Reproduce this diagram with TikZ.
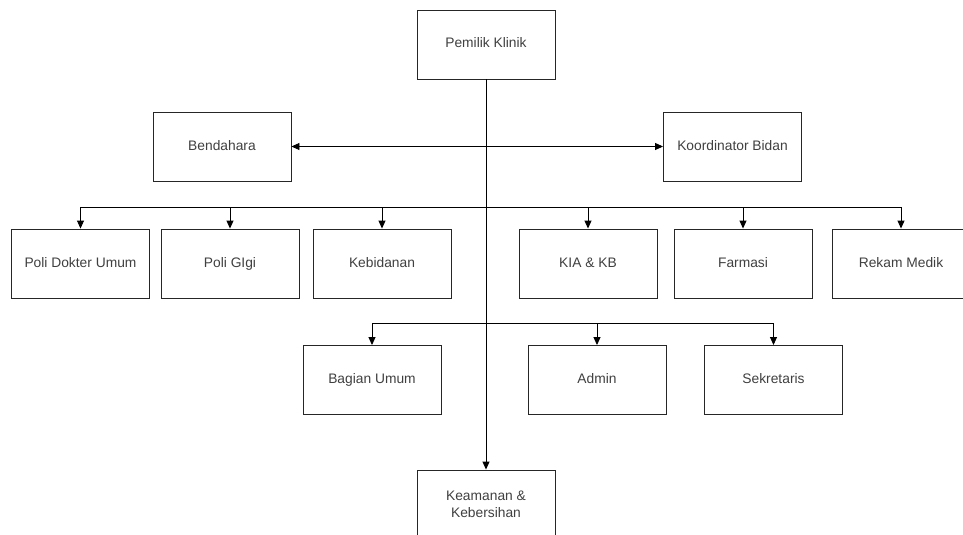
\documentclass[tikz,border=0pt]{standalone}
\usepackage{fontspec}
\setmainfont{Liberation Sans}
\usetikzlibrary{arrows.meta}

\begin{document}
\begin{tikzpicture}[x=1pt,y=-1pt,
		unit/.style={draw=black!85, line width=0.9pt, fill=white, text=black!75,
			minimum width=138pt, minimum height=69pt, inner sep=2pt, align=center,
			text height=10pt, text depth=3pt,
			font=\fontsize{13.8}{17}\selectfont},
		link/.style={line width=0.9pt, -{Triangle[length=8pt,width=7pt]}}]
			\useasboundingbox (0,0) rectangle (963,535);
			\clip (0,0) rectangle (963,535);
			% top
			\node[unit] (pemilik) at (486,44.5) {Pemilik Klinik};
			\node[unit] (bendahara) at (222,146.5) {Bendahara};
			\node[unit] (koordinator) at (732.5,146.5) {Koordinator Bidan};
			% row 2
			\foreach \name/\x/\txt in {poliumum/80.5/Poli Dokter Umum, poligigi/230/Poli GIgi,
				kebidanan/382/Kebidanan, kiakb/588/KIA \& KB, farmasi/743/Farmasi,
				rekammedik/901/Rekam Medik}
				\node[unit] (\name) at (\x,263.5) {\txt};
			% row 3
			\foreach \name/\x/\txt in {bagianumum/372/Bagian Umum, admin/597/Admin,
				sekretaris/773.5/Sekretaris}
				\node[unit] (\name) at (\x,380) {\txt};
			\node[unit, text height=, text depth=] (keamanan) at (486,504.5) {Keamanan \&\\Kebersihan};
			\coordinate (cabang1) at (486,146.5);
			\coordinate (cabang2) at (486,207);
			\coordinate (cabang3) at (486,323);
			% lines
			\draw[link] (pemilik) -- (keamanan);
			\draw[link] (cabang1) -- (bendahara);
			\draw[link] (cabang1) -- (koordinator);
			\foreach \name in {poliumum,poligigi,kebidanan,kiakb,farmasi,rekammedik}
				\draw[link] (cabang2) -| (\name.north);
			\foreach \name in {bagianumum,admin,sekretaris}
				\draw[link] (cabang3) -| (\name.north);
		\end{tikzpicture}
\end{document}
